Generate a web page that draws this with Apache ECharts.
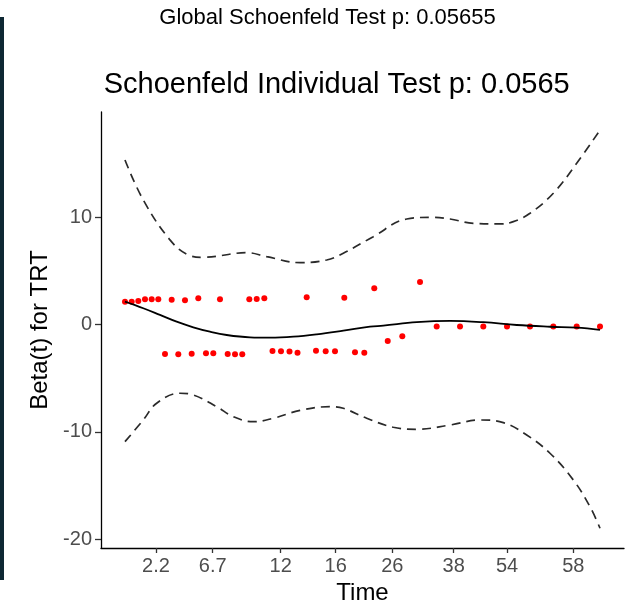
<!DOCTYPE html>
<html>
<head>
<meta charset="utf-8">
<script src="https://cdn.jsdelivr.net/npm/echarts@6/dist/echarts.min.js"></script>
<style>
html,body{margin:0;padding:0;background:#fff;}
#chart{width:625px;height:604px;}
</style>
</head>
<body>
<div id="chart"></div>
<script>
// Transformed time scale (0 = first event, 100 = last event)
var tickPos = [6.53, 18.46, 32.78, 44.36, 56.27, 69.2, 80.42, 94.38];
var tickLabels = ['2.2', '6.7', '12', '16', '26', '38', '54', '58'];
var yTicks = [-20, -10, 0, 10];

// Scaled Schoenfeld residuals
var ptTime = [0, 1.41, 2.8, 4.21, 5.62, 7.01, 9.83, 12.63, 15.43, 20.0, 26.17, 27.73, 29.33, 38.25, 46.17, 52.48, 62.11,
  8.42, 11.22, 14.04, 17.05, 18.59, 21.62, 23.16, 24.69, 31.05, 32.84, 34.63, 36.32, 40.21, 42.25, 44.21, 48.42, 50.38, 55.31, 58.38,
  65.62, 70.53, 75.43, 80.42, 85.26, 90.17, 95.09, 100];
var ptBeta = [2.12, 2.12, 2.19, 2.35, 2.35, 2.35, 2.31, 2.26, 2.44, 2.35, 2.35, 2.38, 2.44, 2.53, 2.5, 3.37, 3.96,
  -2.75, -2.78, -2.72, -2.68, -2.68, -2.75, -2.78, -2.78, -2.47, -2.5, -2.52, -2.63, -2.44, -2.5, -2.5, -2.59, -2.63, -1.54, -1.1,
  -0.2, -0.2, -0.2, -0.2, -0.2, -0.2, -0.2, -0.2];

// Fitted beta(t)
var fitTime = [0, 3.85, 7.37, 10.88, 14.38, 17.89, 21.41, 26.32, 30.53, 35.43, 40.36, 45.96, 51.58, 54.38, 61.41, 68.42, 75.43, 82.46, 89.47, 95.09, 100];
var fitBeta = [2.13, 1.51, 0.89, 0.26, -0.26, -0.67, -0.98, -1.2, -1.23, -1.14, -0.92, -0.58, -0.21, -0.11, 0.21, 0.33, 0.21, -0.05, -0.21, -0.3, -0.51];

// Upper confidence band
var upTime = [0, 3.85, 9.47, 13.33, 16.48, 25.62, 29.83, 36.84, 42.46, 45.96, 52.27, 59.31, 64.91, 68.42, 73.33, 78.95, 81.75, 85.26, 90.17, 95.09, 100];
var upBeta = [15.33, 11.6, 7.88, 6.48, 6.26, 6.69, 6.32, 5.76, 6.01, 6.64, 8.18, 9.83, 9.99, 9.83, 9.43, 9.37, 9.58, 10.36, 12.23, 15.02, 18.12];

// Lower confidence band
var loTime = [0, 3.85, 6.67, 11.58, 14.38, 19.31, 22.8, 27.01, 31.22, 36.84, 43.16, 45.96, 50.88, 56.48, 61.41, 68.42, 74.74, 79.64, 84.57, 89.47, 94.38, 97.89, 100];
var loBeta = [-10.92, -8.9, -7.34, -6.41, -6.57, -7.66, -8.59, -9.06, -8.74, -8.01, -7.66, -7.81, -8.74, -9.58, -9.77, -9.37, -8.9, -9.15, -10.3, -12.0, -14.49, -16.98, -18.99];

function zip(a, b) { return a.map(function (v, i) { return [v, b[i]]; }); }

var FONT = '"Liberation Sans", Arial, Helvetica, sans-serif';
var chart = echarts.init(document.getElementById('chart'), null, {renderer: 'canvas'});
chart.setOption({
  animation: false,
  backgroundColor: '#ffffff',
  graphic: [
    {type: 'rect', left: 0, top: 17, shape: {x: 0, y: 0, width: 4, height: 563}, style: {fill: '#0e2833'}},
    {type: 'text', x: 327.5, y: 18, style: {text: 'Global Schoenfeld Test p: 0.05655', font: '22px ' + FONT, fill: '#000', align: 'center', verticalAlign: 'middle'}},
    {type: 'text', x: 336.7, y: 84.5, style: {text: 'Schoenfeld Individual Test p: 0.0565', font: '29px ' + FONT, fill: '#000', align: 'center', verticalAlign: 'middle'}}
  ],
  grid: {left: 101, right: 1, top: 112, bottom: 56, containLabel: false, outerBoundsMode: 'none'},
  xAxis: {
    type: 'value', min: -5.05, max: 105.05,
    name: 'Time', nameLocation: 'middle', nameGap: 31,
    nameTextStyle: {fontSize: 24, color: '#000', fontFamily: FONT},
    axisLine: {show: true, onZero: false, lineStyle: {color: '#000', width: 1.3}},
    axisTick: {show: true, length: 5, customValues: tickPos, lineStyle: {color: '#333', width: 1.3}},
    axisLabel: {
      customValues: tickPos, margin: 8, fontSize: 20, color: '#4d4d4d', fontFamily: FONT,
      formatter: function (v) { var i = tickPos.indexOf(v); return i >= 0 ? tickLabels[i] : ''; }
    },
    splitLine: {show: false}
  },
  yAxis: {
    type: 'value', min: -20.83, max: 19.8,
    name: 'Beta(t) for TRT', nameLocation: 'middle', nameGap: 48, nameRotate: 90,
    nameTextStyle: {fontSize: 24, color: '#000', fontFamily: FONT},
    axisLine: {show: true, onZero: false, lineStyle: {color: '#000', width: 1.3}},
    axisTick: {show: true, length: 6, customValues: yTicks, lineStyle: {color: '#333', width: 1.3}},
    axisLabel: {customValues: yTicks, margin: 9, fontSize: 20, color: '#4d4d4d', fontFamily: FONT},
    splitLine: {show: false}
  },
  series: [
    {type: 'scatter', data: zip(ptTime, ptBeta), symbolSize: 6, itemStyle: {color: '#ff0000', opacity: 1}, z: 2},
    {type: 'line', data: zip(fitTime, fitBeta), smooth: 0.4, showSymbol: false, lineStyle: {color: '#000', width: 1.8}, z: 3},
    {type: 'line', data: zip(upTime, upBeta), smooth: 0.4, showSymbol: false, lineStyle: {color: '#2a2a2a', width: 1.7, type: [9, 6]}, z: 3},
    {type: 'line', data: zip(loTime, loBeta), smooth: 0.4, showSymbol: false, lineStyle: {color: '#2a2a2a', width: 1.7, type: [9, 6]}, z: 3}
  ]
});
</script>
</body>
</html>
